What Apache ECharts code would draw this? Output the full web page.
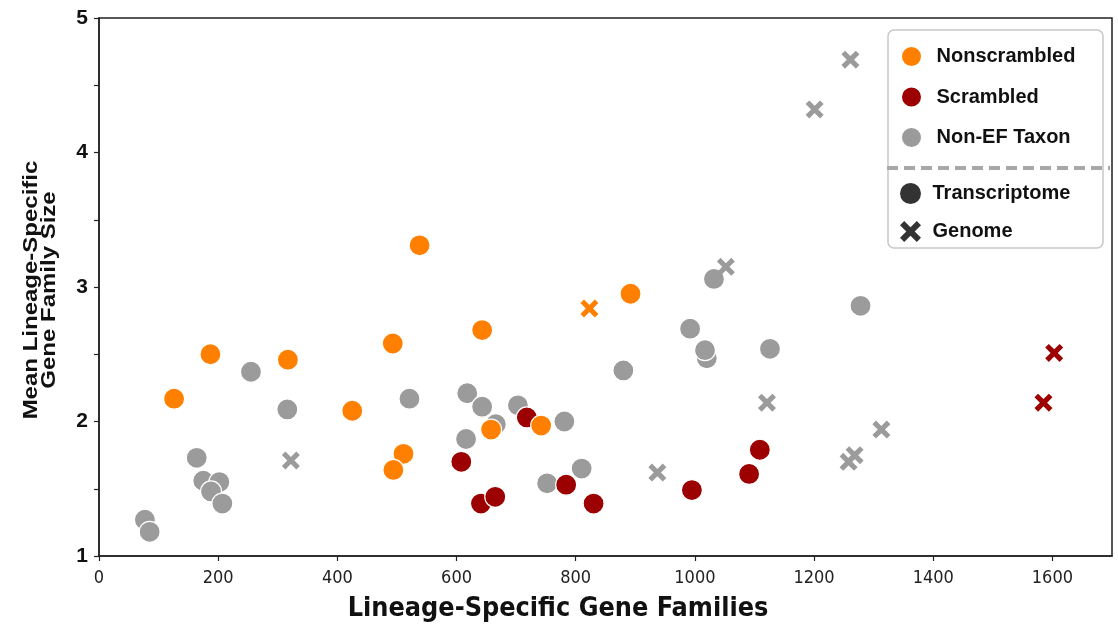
<!DOCTYPE html>
<html>
<head>
<meta charset="utf-8">
<script src="https://cdn.jsdelivr.net/npm/echarts@6/dist/echarts.min.js"></script>
<style>html,body{margin:0;padding:0;background:#fff}#chart{width:1118px;height:626px}</style>
</head>
<body>
<div id="chart"></div>
<script>
// ---- data ----
const xTicks = [0, 200, 400, 600, 800, 1000, 1200, 1400, 1600];
const yTicks = [1, 2, 3, 4, 5];
const xTitle = 'Lineage-Specific Gene Families';
const yTitle = 'Mean Lineage-Specific\nGene Family Size';
const nonscrambledTranscriptome = [[126,2.17],[187,2.50],[317,2.46],[425,2.08],[493,2.58],[538,3.31],[511,1.76],[494,1.64],[643,2.68],[658,1.94],[742,1.97],[892,2.95]];
const nonscrambledGenome = [[823,2.84]];
const scrambledTranscriptome = [[608,1.70],[641,1.39],[665,1.44],[718,2.03],[784,1.53],[830,1.39],[995,1.49],[1091,1.61],[1109,1.79]];
const scrambledGenome = [[1603,2.51],[1585,2.14]];
const nonEFTranscriptome = [[77,1.27],[85,1.18],[164,1.73],[175,1.56],[202,1.55],[188,1.48],[207,1.39],[255,2.37],[316,2.09],[521,2.17],[618,2.21],[643,2.11],[703,2.12],[666,1.98],[616,1.87],[781,2.00],[810,1.65],[752,1.54],[880,2.38],[992,2.69],[1020,2.47],[1017,2.53],[1126,2.54],[1032,3.06],[1278,2.86]];
const nonEFGenome = [[322,1.71],[937,1.62],[1121,2.14],[1258,1.70],[1268,1.75],[1313,1.94],[1052,3.15],[1201,4.32],[1261,4.69]];

const ORANGE = '#ff8000', RED = '#9c0000', GRAY = '#9b9b9b';
const XPATH = 'path://M2,0 L5,3 L8,0 L10,2 L7,5 L10,8 L8,10 L5,7 L2,10 L0,8 L3,5 L0,2 Z';
const SANS = "'Liberation Sans',Arial,sans-serif";
const NARROW = "'DejaVu Sans Condensed','Liberation Sans',sans-serif";

function circleSeries(name, data, color) {
  return { type: 'scatter', name: name, data: data, symbol: 'circle', symbolSize: 21,
    itemStyle: { color: color, borderColor: '#fff', borderWidth: 1.2, opacity: 1 }, emphasis: { disabled: true } };
}
function crossSeries(name, data, color) {
  return { type: 'scatter', name: name, data: data, symbol: XPATH, symbolSize: 18,
    itemStyle: { color: color, opacity: 1 }, emphasis: { disabled: true } };
}

const chart = echarts.init(document.getElementById('chart'), null, { renderer: 'canvas' });
chart.setOption({
  animation: false,
  backgroundColor: '#fff',
  grid: { left: 99, top: 18, right: 6, bottom: 70, show: true, borderColor: '#222', borderWidth: 1.5, containLabel: false },
  xAxis: {
    type: 'value', min: 0, max: 1700, interval: 200,
    axisLine: { show: true, lineStyle: { color: '#222', width: 1.5 } },
    axisTick: { show: true, length: 5, lineStyle: { color: '#222', width: 1.2 } },
    axisLabel: { showMaxLabel: false, margin: 13, fontSize: 18, color: '#222', fontFamily: NARROW,
      formatter: function (v) { return xTicks.indexOf(v) >= 0 ? String(v) : ''; } },
    splitLine: { show: false }
  },
  yAxis: {
    type: 'value', min: 1, max: 5, interval: 0.5,
    axisLine: { show: true, lineStyle: { color: '#222', width: 1.5 } },
    axisTick: { show: true, length: 5, lineStyle: { color: '#222', width: 1.2 } },
    axisLabel: { margin: 11, fontSize: 21, fontWeight: 'bold', color: '#111', fontFamily: SANS,
      formatter: function (v) { return yTicks.indexOf(v) >= 0 ? String(v) : ''; } },
    splitLine: { show: false }
  },
  legend: [
    { orient: 'vertical', left: 895, top: 40, itemWidth: 32, itemHeight: 21, itemGap: 17.5, icon: 'circle', z: 5,
      selectedMode: false,
      textStyle: { fontFamily: SANS, fontWeight: 'bold', fontSize: 20, color: '#111', padding: [0, 0, 0, 4] },
      data: ['Nonscrambled', 'Scrambled', 'Non-EF Taxon'] },
    { orient: 'vertical', left: 895, top: 178, itemWidth: 32, itemHeight: 21, itemGap: 17, z: 5,
      selectedMode: false,
      textStyle: { fontFamily: SANS, fontWeight: 'bold', fontSize: 20, color: '#111', padding: [0, 0, 0, 1] },
      data: [{ name: 'Transcriptome', icon: 'circle' }, { name: 'Genome', icon: XPATH }] }
  ],
  graphic: [
    { type: 'rect', z: 3, shape: { x: 888, y: 30, width: 215, height: 218, r: 6 },
      style: { fill: '#fff', stroke: '#c8c8c8', lineWidth: 1.5 } },
    { type: 'line', z: 4, shape: { x1: 887, y1: 168, x2: 1110, y2: 168 },
      style: { stroke: '#a8a8a8', lineWidth: 4, lineDash: [11, 6] } },
    { type: 'text', z: 5, x: 558, y: 609, scaleX: 1.03,
      style: { text: xTitle, fontFamily: NARROW, fontWeight: 'bold', fontSize: 26, fill: '#111', align: 'center', verticalAlign: 'middle' } },
    { type: 'text', z: 5, x: 40, y: 290, rotation: Math.PI / 2, scaleX: 1.2,
      style: { text: yTitle, fontFamily: SANS, fontWeight: 'bold', fontSize: 20, lineHeight: 18, fill: '#111', align: 'center', verticalAlign: 'middle' } }
  ],
  series: [
    circleSeries('Non-EF Taxon', nonEFTranscriptome, GRAY),
    crossSeries('Non-EF Taxon', nonEFGenome, GRAY),
    circleSeries('Scrambled', scrambledTranscriptome, RED),
    crossSeries('Scrambled', scrambledGenome, RED),
    circleSeries('Nonscrambled', nonscrambledTranscriptome, ORANGE),
    crossSeries('Nonscrambled', nonscrambledGenome, ORANGE),
    { type: 'scatter', name: 'Transcriptome', data: [], symbol: 'circle', itemStyle: { color: '#000' } },
    { type: 'scatter', name: 'Genome', data: [], symbol: XPATH, itemStyle: { color: '#000' } }
  ]
});
</script>
</body>
</html>
